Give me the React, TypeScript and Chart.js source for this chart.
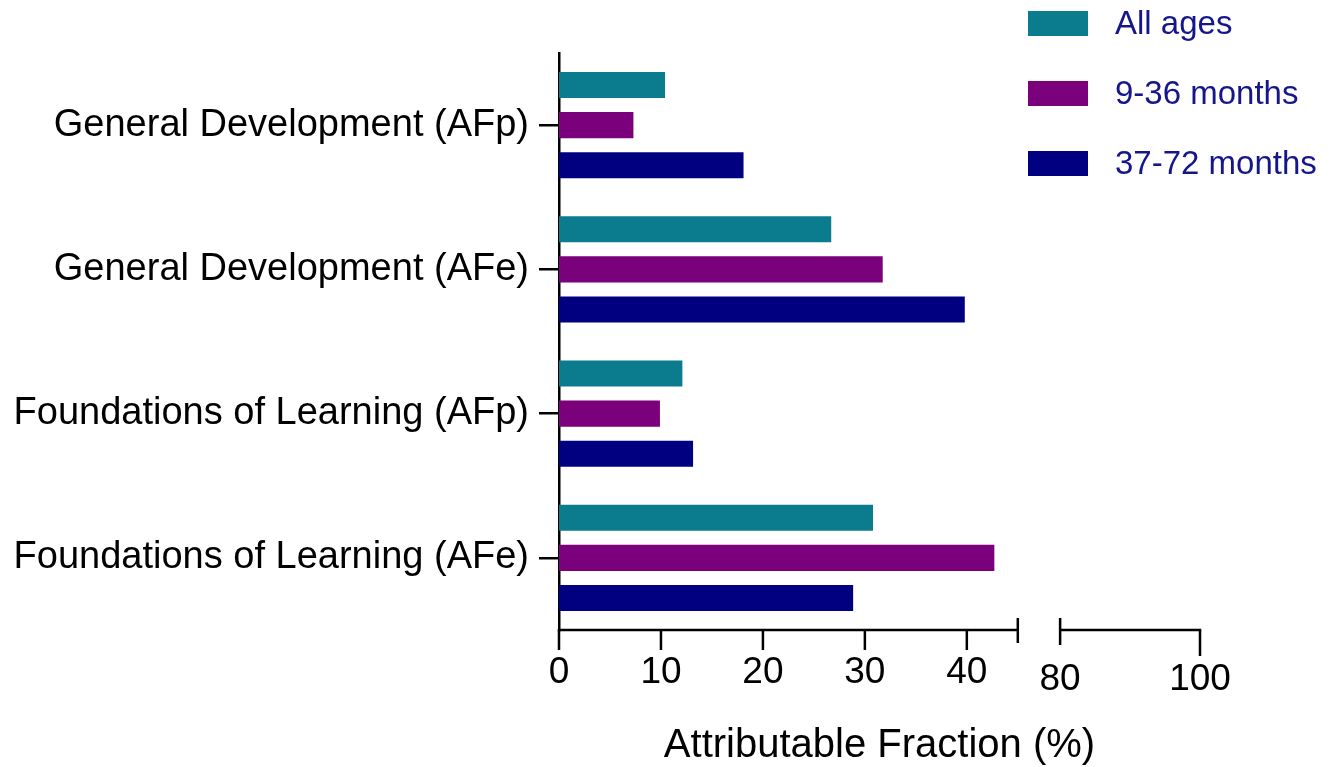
import React, { useEffect, useRef } from 'react';
import { Chart, registerables } from 'chart.js';

Chart.register(...registerables);

// ---- data ----
const categories = [
  'General Development (AFp)',
  'General Development (AFe)',
  'Foundations of Learning (AFp)',
  'Foundations of Learning (AFe)',
];
const seriesLabels = ['All ages', '9-36 months', '37-72 months'];
const allAges = [10.4, 26.7, 12.1, 30.8];
const months9to36 = [7.3, 31.75, 9.9, 42.7];
const months37to72 = [18.1, 39.8, 13.15, 28.85];
const lowerTicks = [0, 10, 20, 30, 40];
const upperTicks = [80, 100];
const xTitle = 'Attributable Fraction (%)';

// ---- broken-axis configuration ----
const BREAK_START = 45; // lower segment ends
const BREAK_END = 80; // upper segment starts
const AXIS_END = 100;
const GAP_UNITS = 4.15; // visual gap between segments (in lower-segment units)
const UPPER_FACTOR = 0.686; // compression of the upper segment

const mapValue = (v: number) =>
  v <= BREAK_START ? v : BREAK_START + GAP_UNITS + (v - BREAK_END) * UPPER_FACTOR;
const AXIS_MAX = mapValue(AXIS_END);

// ---- styles ----
const colors = ['#0b7b8e', '#7b007b', '#000080'];
const FONT = '"Liberation Sans", Arial, Helvetica, sans-serif';
const legendColor = '#16168c';
const AXIS_WIDTH = 2.5;

const brokenAxisPlugin = {
  id: 'brokenAxis',
  afterDatasetsDraw(chart: any) {
    const { ctx, chartArea, scales } = chart;
    const xs = scales.x;
    const y = chartArea.bottom;
    ctx.save();
    ctx.strokeStyle = '#000';
    ctx.lineWidth = AXIS_WIDTH;
    ctx.lineCap = 'butt';
    const line = (x1: number, y1: number, x2: number, y2: number) => {
      ctx.beginPath();
      ctx.moveTo(x1, y1);
      ctx.lineTo(x2, y2);
      ctx.stroke();
    };
    const x0 = xs.getPixelForValue(0);
    const xb1 = xs.getPixelForValue(mapValue(BREAK_START));
    const xb2 = xs.getPixelForValue(mapValue(BREAK_END));
    const xe = xs.getPixelForValue(mapValue(AXIS_END));
    // lower segment
    line(x0 - 1.25, y, xb1, y);
    lowerTicks.forEach((t) => {
      const px = xs.getPixelForValue(mapValue(t));
      line(px, y, px, y + 20);
    });
    line(xb1, y - 12, xb1, y + 13);
    // upper segment
    line(xb2, y - 12, xb2, y + 15);
    line(xb2, y, xe + 1.25, y);
    line(xe, y, xe, y + 26);
    ctx.restore();
  },
};

const sideLegendPlugin = {
  id: 'sideLegend',
  afterDraw(chart: any) {
    const { ctx } = chart;
    const opts = chart.options.plugins.sideLegend;
    ctx.save();
    ctx.font = `${opts.fontSize}px ${FONT}`;
    ctx.textBaseline = 'middle';
    ctx.textAlign = 'left';
    chart.data.datasets.forEach((ds: any, i: number) => {
      const cy = opts.top + i * opts.rowGap;
      ctx.fillStyle = ds.backgroundColor;
      ctx.fillRect(opts.left, cy - opts.boxHeight / 2, opts.boxWidth, opts.boxHeight);
      ctx.fillStyle = opts.color;
      ctx.fillText(ds.label, opts.textLeft, cy + 1);
    });
    ctx.restore();
  },
};

export default function App() {
  const canvasRef = useRef<HTMLCanvasElement | null>(null);

  useEffect(() => {
    if (!canvasRef.current) return;
    const seriesData = [allAges, months9to36, months37to72];
    const chart = new Chart(canvasRef.current, {
      type: 'bar',
      data: {
        labels: categories,
        datasets: seriesLabels.map((label, i) => ({
          label,
          data: seriesData[i],
          backgroundColor: colors[i],
          borderWidth: 0,
          categoryPercentage: 0.832,
          barPercentage: 0.65,
        })),
      },
      plugins: [brokenAxisPlugin, sideLegendPlugin],
      options: {
        indexAxis: 'y',
        responsive: false,
        maintainAspectRatio: false,
        animation: false,
        layout: { padding: { top: 53, right: 136, left: 0, bottom: 0 } },
        plugins: {
          legend: { display: false },
          tooltip: { enabled: false },
          sideLegend: {
            left: 1028,
            textLeft: 1115,
            top: 23.5,
            rowGap: 70,
            boxWidth: 60,
            boxHeight: 25,
            fontSize: 33,
            color: legendColor,
          },
        } as any,
        scales: {
          x: {
            type: 'linear',
            min: 0,
            max: AXIS_MAX,
            grid: { display: false, drawTicks: false },
            border: { display: false },
            afterBuildTicks: (scale: any) => {
              scale.ticks = [...lowerTicks, ...upperTicks].map((v) => ({ value: mapValue(v) }));
            },
            afterFit: (scale: any) => {
              scale.height = 137;
            },
            ticks: {
              autoSkip: false,
              maxRotation: 0,
              padding: 21,
              color: '#000',
              font: (ctx: any) => {
                const upper = ctx.tick && ctx.tick.value > BREAK_START;
                return { family: FONT, size: 37, lineHeight: upper ? 1.58 : 1.2 };
              },
              callback: (value: any, index: number) => {
                const all = [...lowerTicks, ...upperTicks];
                return String(all[index]);
              },
            },
            title: {
              display: true,
              text: xTitle,
              color: '#000',
              font: { family: FONT, size: 40 },
              padding: { top: 0, bottom: -3 },
            },
          },
          y: {
            type: 'category',
            offset: true,
            grid: {
              display: true,
              offset: false,
              drawOnChartArea: false,
              drawTicks: true,
              tickLength: 20,
              color: '#000',
              lineWidth: AXIS_WIDTH,
            },
            border: { display: true, color: '#000', width: AXIS_WIDTH },
            afterFit: (scale: any) => {
              scale.width = 559;
            },
            ticks: {
              padding: 10,
              color: '#000',
              font: { family: FONT, size: 38 },
            },
          },
        },
      } as any,
    });
    return () => chart.destroy();
  }, []);

  return (
    <div style={{ position: 'absolute', left: 0, top: 0, width: 1336, height: 767, background: '#fff' }}>
      <canvas ref={canvasRef} width={1336} height={767} style={{ display: 'block' }} />
    </div>
  );
}
